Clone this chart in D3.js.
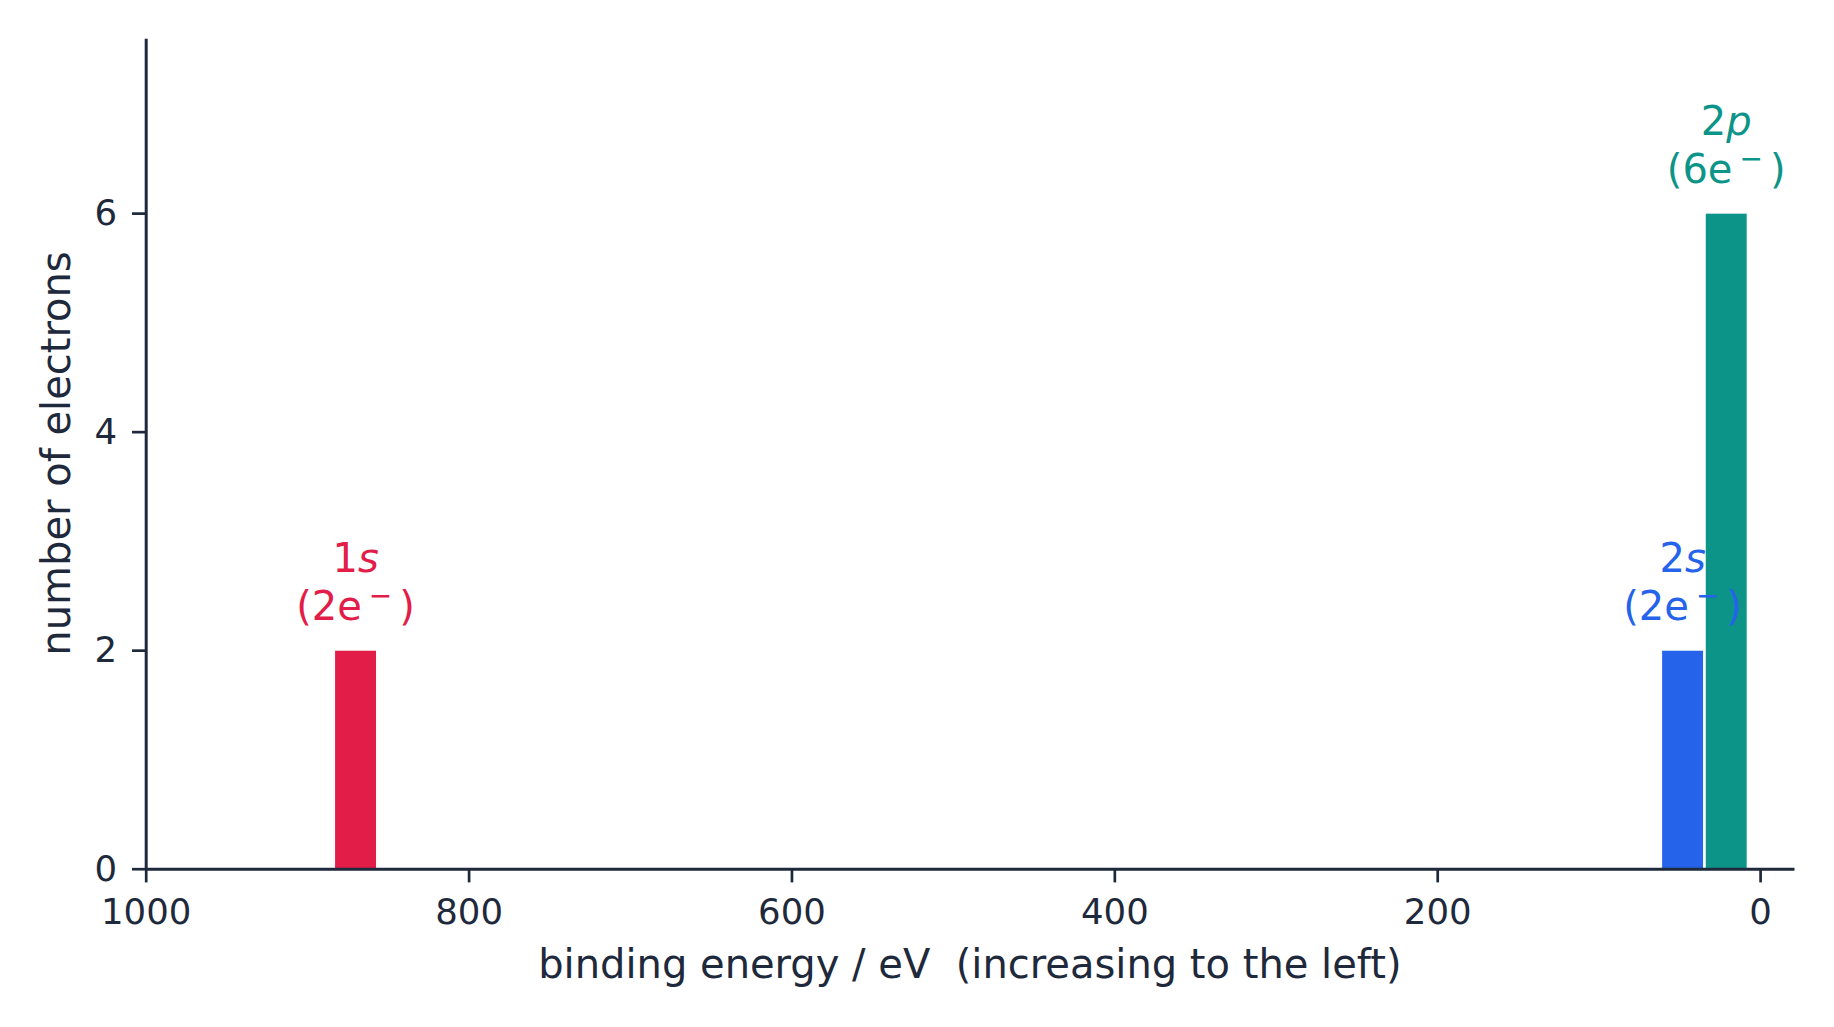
<!DOCTYPE html>
<html>
<head>
<meta charset="utf-8">
<script src="https://cdn.jsdelivr.net/npm/d3@7"></script>
<style>
  html, body { margin: 0; padding: 0; background: #ffffff; }
  svg { display: block; font-family: "DejaVu Sans", sans-serif; }
</style>
</head>
<body>
<svg id="chart" width="1834" height="1027"></svg>
<script>
// ---- data ----
const orbitals   = ["1s", "2s", "2p"];
const energies   = [870, 48, 21];        // binding energy / eV
const electrons  = [2, 2, 6];            // number of electrons
const colors     = ["#E11D48", "#2563EB", "#0D9488"];
const barWidthEV = 26;
const xTicks     = [1000, 800, 600, 400, 200, 0];
const yTicks     = [0, 2, 4, 6];
const xDomain    = [1000, -21];
const yDomain    = [0, 7.6];
const xLabel     = "binding energy / eV  (increasing to the left)";
const yLabel     = "number of electrons";

// ---- layout ----
const ink = "#1e293b";
const L = 145.7, R = 1794, T = 38.3, B = 868.7;
const svg = d3.select("#chart");

const x = d3.scaleLinear().domain(xDomain).range([L, R]);
const y = d3.scaleLinear().domain(yDomain).range([B, T]);

// bars
const data = orbitals.map((o, i) => ({ o, e: energies[i], n: electrons[i], c: colors[i] }));
svg.append("g").selectAll("rect").data(data).join("rect")
  .attr("x", d => x(d.e + barWidthEV / 2))
  .attr("width", d => x(d.e - barWidthEV / 2) - x(d.e + barWidthEV / 2))
  .attr("y", d => y(d.n))
  .attr("height", d => y(0) - y(d.n))
  .attr("fill", d => d.c)
  .attr("stroke", "#ffffff")
  .attr("stroke-width", 1);

// annotations
const ann = svg.append("g").attr("font-size", 40);
data.forEach(d => {
  const cx = x(d.e);
  const base2 = y(d.n) - 30;
  const t1 = ann.append("text").attr("x", cx).attr("y", base2 - 48)
    .attr("text-anchor", "middle").attr("fill", d.c);
  t1.append("tspan").text(d.o[0]);
  t1.append("tspan").attr("font-style", "italic").text(d.o.slice(1));
  const t2 = ann.append("text").attr("x", cx).attr("y", base2)
    .attr("text-anchor", "middle").attr("fill", d.c);
  t2.append("tspan").text("(" + d.n + "e");
  t2.append("tspan").attr("dx", 7).attr("font-size", 28).attr("dy", -15).text("\u2212");
  t2.append("tspan").attr("dx", 7).attr("dy", 15).text(")");
});

// axes
const gx = svg.append("g").attr("transform", `translate(0,${B})`)
  .call(d3.axisBottom(x).tickValues(xTicks).tickFormat(d3.format("d"))
    .tickSizeInner(13.7).tickSizeOuter(0).tickPadding(16));
const gy = svg.append("g").attr("transform", `translate(${L},0)`)
  .call(d3.axisLeft(y).tickValues(yTicks).tickFormat(d3.format("d"))
    .tickSizeInner(13.7).tickSizeOuter(0).tickPadding(15));

[gx, gy].forEach(g => {
  g.attr("font-family", "DejaVu Sans").attr("font-size", 35.5);
  g.select(".domain").attr("stroke", ink).attr("stroke-width", 3);
  g.selectAll(".tick line").attr("stroke", ink).attr("stroke-width", 2.7);
  g.selectAll(".tick text").attr("fill", ink);
});

// axis labels
svg.append("text").attr("x", (L + R) / 2).attr("y", 978)
  .attr("text-anchor", "middle").attr("font-size", 40).attr("fill", ink)
  .attr("xml:space", "preserve").style("white-space", "pre")
  .text(xLabel);
svg.append("text")
  .attr("transform", `translate(70,${(T + B) / 2}) rotate(-90)`)
  .attr("text-anchor", "middle").attr("font-size", 40).attr("fill", ink)
  .text(yLabel);
</script>
</body>
</html>
